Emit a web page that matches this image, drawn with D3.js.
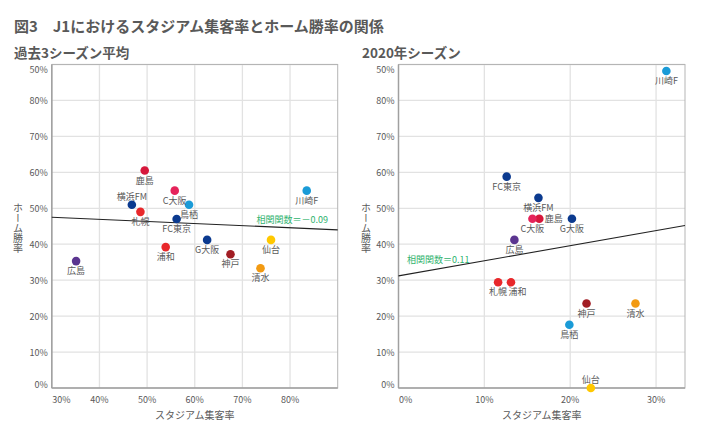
<!DOCTYPE html>
<html><head><meta charset="utf-8">
<script src="https://cdn.jsdelivr.net/npm/d3@7"></script>
<style>
html,body{margin:0;padding:0;background:#fff;}
svg{display:block;font-family:"Noto Sans CJK JP","Noto Sans",sans-serif;}
</style></head>
<body>
<svg id="chart" width="722" height="447"></svg>
<script>
// ---- data ----
const title = "図3　J1におけるスタジアム集客率とホーム勝率の関係";
const subtitleLeft = "過去3シーズン平均";
const subtitleRight = "2020年シーズン";
const xTitle = "スタジアム集客率";
const yTitle = "ホーム勝率";
const teams = ["鹿島","横浜FM","札幌","C大阪","鳥栖","FC東京","浦和","G大阪","神戸","清水","仙台","川崎F","広島"];
const teamColors = ["#d6173b","#0b3a8f","#e8282b","#e5235a","#1a9bd7","#0b3a8f","#e8282b","#0b3a8f","#a11d24","#f29a12","#ffc800","#1a9bd7","#5b3590"];
const avgAttendance = [0.495,0.468,0.486,0.558,0.588,0.562,0.539,0.626,0.675,0.738,0.760,0.835,0.351];
const avgHomeWin    = [0.605,0.510,0.490,0.549,0.510,0.470,0.392,0.412,0.372,0.333,0.412,0.549,0.353];
const att2020       = [0.164,0.163,0.116,0.156,0.199,0.126,0.131,0.202,0.219,0.276,0.224,0.312,0.135];
const win2020       = [0.471,0.529,0.294,0.471,0.176,0.588,0.294,0.471,0.235,0.235,0.000,0.882,0.412];
const yTickValues = [0,0.1,0.2,0.3,0.4,0.5,0.6,0.7,0.8,0.9];
const yTickLabels = ["0%","10%","20%","30%","40%","50%","60%","70%","80%","50%"];
const xTickValuesLeft = [0.3,0.4,0.5,0.6,0.7,0.8];
const xTickLabelsLeft = ["30%","40%","50%","60%","70%","80%"];
const xTickValuesRight = [0,0.1,0.2,0.3];
const xTickLabelsRight = ["0%","10%","20%","30%"];
const trendLeft = [[0.3,0.475],[0.9,0.440]];
const trendRight = [[0,0.312],[0.3337,0.452]];
const corrLeft = "相関関数＝－0.09";
const corrRight = "相関関数＝0.11";
// label placement (not data)
const labelPlaceLeft = {"横浜FM":"above"};
const labelPlaceRight = {"鹿島":"right","仙台":"above","浦和":"belowRight"};

const svg = d3.select("#chart");
const textCol = "#595959";

svg.append("text").attr("x",14).attr("y",25).attr("dominant-baseline","central")
  .attr("font-size",15).attr("font-weight","bold").attr("fill",textCol).text(title);

function panel(cfg){
  const g = svg.append("g");
  const x = d3.scaleLinear().domain(cfg.xDomain).range(cfg.xRange);
  const y = d3.scaleLinear().domain([0,0.9]).range([388,64.5]);
  const [x0,x1] = cfg.xRange;
  const yb = 388, yt = 64.5;
  g.append("text").attr("x",cfg.subX).attr("y",52).attr("dominant-baseline","central")
    .attr("font-size",13.5).attr("font-weight","bold").attr("fill",textCol).text(cfg.subtitle);
  // gridlines
  g.selectAll(".gy").data(yTickValues.slice(1)).join("line")
    .attr("x1",x0).attr("x2",x1).attr("y1",d=>y(d)).attr("y2",d=>y(d))
    .attr("stroke","#e2e2e2").attr("stroke-width",1.3);
  g.selectAll(".gx").data(cfg.xTicks.filter(d=>d>cfg.xDomain[0])).join("line")
    .attr("x1",d=>x(d)).attr("x2",d=>x(d)).attr("y1",yt).attr("y2",yb)
    .attr("stroke","#e2e2e2").attr("stroke-width",1.3);
  // frame
  g.append("rect").attr("x",x0).attr("y",yt).attr("width",x1-x0).attr("height",yb-yt)
    .attr("fill","none").attr("stroke","#b5b5b5").attr("stroke-width",1);
  g.append("line").attr("x1",x0).attr("x2",x0).attr("y1",yt).attr("y2",yb).attr("stroke","#a0a0a0").attr("stroke-width",1.5);
  g.append("line").attr("x1",x0).attr("x2",x1).attr("y1",yb).attr("y2",yb).attr("stroke","#a0a0a0").attr("stroke-width",1.5);
  // y tick labels
  g.selectAll(".yl").data(yTickValues).join("text")
    .attr("x",x0-4).attr("y",d=>Math.min(384,Math.max(69,y(d))))
    .attr("text-anchor","end").attr("dominant-baseline","central")
    .attr("font-size",9).attr("fill",textCol).text((d,i)=>yTickLabels[i]);
  // x tick labels
  g.selectAll(".xl").data(cfg.xTicks).join("text")
    .attr("x",(d,i)=>i===0?x0+0.5:x(d)).attr("y",399)
    .attr("text-anchor",(d,i)=>i===0?"start":"middle").attr("dominant-baseline","central")
    .attr("font-size",9).attr("fill",textCol).text((d,i)=>cfg.xLabels[i]);
  // axis titles
  g.append("text").attr("x",(x0+x1)/2).attr("y",414).attr("text-anchor","middle").attr("dominant-baseline","central")
    .attr("font-size",10).attr("fill",textCol).text(xTitle);
  g.append("text").attr("x",cfg.yTitleX).attr("y",228).attr("text-anchor","middle")
    .style("writing-mode","vertical-rl").attr("font-size",10).attr("fill",textCol).text(yTitle);
  // trend line
  g.append("line").attr("x1",x(cfg.trend[0][0])).attr("y1",y(cfg.trend[0][1]))
    .attr("x2",x(cfg.trend[1][0])).attr("y2",y(cfg.trend[1][1]))
    .attr("stroke","#222").attr("stroke-width",1.1);
  // correlation
  g.append("text").attr("x",cfg.corrX).attr("y",cfg.corrY).attr("text-anchor",cfg.corrAnchor)
    .attr("dominant-baseline","central").attr("font-size",9).attr("fill","#2fb36e").text(cfg.corr);
  // points
  const pts = teams.map((t,i)=>({t,c:teamColors[i],xv:cfg.xs[i],yv:cfg.ys[i]}));
  g.selectAll(".pt").data(pts).join("circle")
    .attr("cx",d=>x(d.xv)).attr("cy",d=>y(d.yv)).attr("r",4.3).attr("fill",d=>d.c);
  g.selectAll(".pl").data(pts).join("text")
    .attr("x",d=>{const p=cfg.place[d.t]; return x(d.xv)+(p==="right"?5.5:p==="belowRight"?6.5:0);})
    .attr("y",d=>{const p=cfg.place[d.t]; return y(d.yv)+(p==="above"?-8.5:p==="right"?0:9.5);})
    .attr("text-anchor",d=>cfg.place[d.t]==="right"?"start":"middle")
    .attr("dominant-baseline","central").attr("font-size",9).attr("fill",textCol).text(d=>d.t);
}

panel({subtitle:subtitleLeft, subX:14, xDomain:[0.3,0.9], xRange:[51.8,337.7],
  xTicks:xTickValuesLeft, xLabels:xTickLabelsLeft, yTitleX:18,
  trend:trendLeft, corr:corrLeft, corrX:328, corrY:219, corrAnchor:"end",
  xs:avgAttendance, ys:avgHomeWin, place:labelPlaceLeft});
panel({subtitle:subtitleRight, subX:362, xDomain:[0,0.3337], xRange:[398.5,685],
  xTicks:xTickValuesRight, xLabels:xTickLabelsRight, yTitleX:366,
  trend:trendRight, corr:corrRight, corrX:407, corrY:259, corrAnchor:"start",
  xs:att2020, ys:win2020, place:labelPlaceRight});
</script>
</body></html>
